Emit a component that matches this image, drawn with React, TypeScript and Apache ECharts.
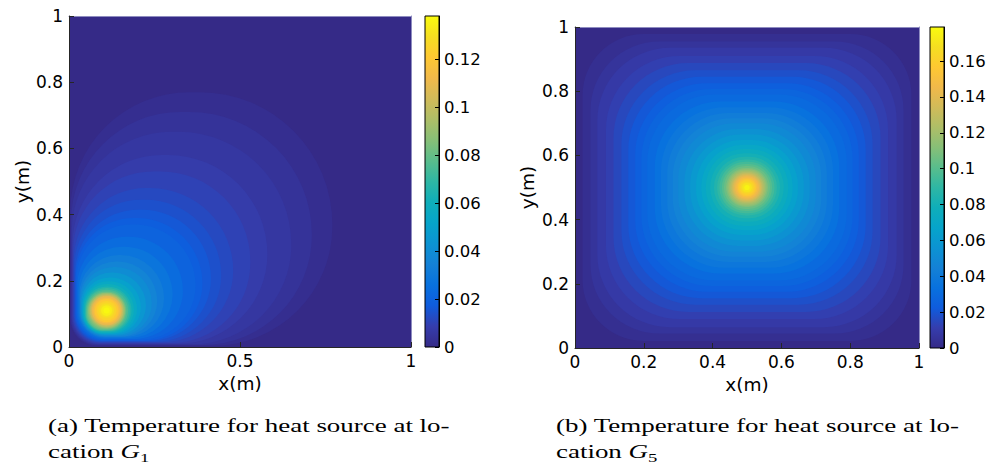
import React, { useEffect, useRef } from 'react';
import * as echarts from 'echarts';

// MATLAB parula colormap stops
const PARULA = ['#352a87', '#353dad', '#0f5cdd', '#0871de', '#1481d6', '#0c93d2', '#06a4ca', '#0faeb9', '#2eb7a4', '#59bd8c', '#87bf77', '#aebe67', '#d1bb59', '#f1b94a', '#fec832', '#f5de21', '#f9fb0e'];

// ---- Panel (a): heat source at G1 — filled contour bands (level, extents, corner radii in metres)
const G1_LEVELS = [0, 0.002, 0.004, 0.006, 0.008, 0.010, 0.012, 0.014, 0.016, 0.018, 0.020, 0.024, 0.028, 0.032, 0.036, 0.040, 0.045, 0.050, 0.055, 0.060, 0.065, 0.070, 0.075, 0.080, 0.085, 0.090, 0.095, 0.100, 0.105, 0.110, 0.115, 0.120, 0.125, 0.130, 0.134, 0.137];
const G1_INNER = [0, 0.004, 0.006, 0.008, 0.010, 0.012, 0.014, 0.016, 0.018, 0.020, 0.022, 0.024, 0.027, 0.030, 0.032, 0.034, 0.036, 0.039, 0.041, 0.043, 0.046, 0.048, 0.050, 0.052, 0.055, 0.057, 0.060, 0.062, 0.065, 0.067, 0.071, 0.075, 0.081, 0.088, 0.094, 0.101];
const G1_OUTER = [1, 0.77, 0.71, 0.65, 0.58, 0.53, 0.48, 0.445, 0.415, 0.39, 0.37, 0.333, 0.303, 0.278, 0.258, 0.242, 0.225, 0.21, 0.199, 0.19, 0.183, 0.178, 0.173, 0.168, 0.165, 0.163, 0.16, 0.158, 0.155, 0.153, 0.149, 0.145, 0.139, 0.132, 0.126, 0.119];
const G1_R_FAR = [0, 0.40, 0.37, 0.34, 0.30, 0.27, 0.25, 0.23, 0.21, 0.20, 0.185, 0.165, 0.148, 0.134, 0.122, 0.112, 0.102, 0.092, 0.085, 0.078, 0.073, 0.068, 0.063, 0.058, 0.055, 0.053, 0.05, 0.048, 0.045, 0.043, 0.039, 0.035, 0.029, 0.022, 0.016, 0.009];
const G1_R_SIDE = [0, 0.36, 0.33, 0.30, 0.27, 0.24, 0.217, 0.20, 0.19, 0.174, 0.165, 0.148, 0.133, 0.12, 0.11, 0.10, 0.092, 0.082, 0.076, 0.07, 0.066, 0.063, 0.06, 0.058, 0.055, 0.053, 0.05, 0.048, 0.045, 0.043, 0.039, 0.035, 0.029, 0.022, 0.016, 0.009];
const G1_R_NEAR = [0, 0.08, 0.08, 0.08, 0.08, 0.08, 0.08, 0.08, 0.08, 0.08, 0.08, 0.08, 0.08, 0.075, 0.075, 0.07, 0.07, 0.065, 0.06, 0.057, 0.055, 0.052, 0.05, 0.05, 0.05, 0.053, 0.05, 0.048, 0.045, 0.043, 0.039, 0.035, 0.029, 0.022, 0.016, 0.009];
const G1_COLOR_MAX = 0.138;

// ---- Panel (b): heat source at G5
const G5_SOURCE = [0.5, 0.5];
const G5_LEVELS = [0, 0.003, 0.006, 0.009, 0.012, 0.015, 0.018, 0.021, 0.024, 0.027, 0.030, 0.034, 0.038, 0.042, 0.046, 0.050, 0.055, 0.060, 0.065, 0.070, 0.075, 0.080, 0.085, 0.090, 0.095, 0.100, 0.105, 0.110, 0.115, 0.120, 0.125, 0.130, 0.135, 0.140, 0.145, 0.150, 0.155, 0.160, 0.165, 0.170, 0.176];
const G5_HALF = [0.5, 0.478, 0.455, 0.435, 0.41, 0.388, 0.365, 0.345, 0.325, 0.307, 0.29, 0.268, 0.25, 0.232, 0.216, 0.20, 0.182, 0.165, 0.148, 0.133, 0.12, 0.107, 0.096, 0.087, 0.08, 0.073, 0.067, 0.061, 0.057, 0.053, 0.049, 0.045, 0.042, 0.039, 0.035, 0.031, 0.027, 0.023, 0.019, 0.014, 0.008];
const G5_RADIUS = [0, 0.19, 0.214, 0.226, 0.23, 0.233, 0.23, 0.228, 0.224, 0.218, 0.212, 0.204, 0.198, 0.19, 0.184, 0.176, 0.166, 0.155, 0.142, 0.13, 0.118, 0.106, 0.096, 0.087, 0.08, 0.073, 0.067, 0.061, 0.057, 0.053, 0.049, 0.045, 0.042, 0.039, 0.035, 0.031, 0.027, 0.023, 0.019, 0.014, 0.008];
const G5_COLOR_MAX = 0.179;

// ---- Axes / text
const X_TICKS_A = 0.5;
const X_TICKS_B = 0.2;
const Y_TICKS = 0.2;
const CBAR_TICKS = 0.02;
const X_NAME = 'x(m)';
const Y_NAME = 'y(m)';
const CAPTION_A1 = '(a) Temperature for heat source at lo-';
const CAPTION_B1 = '(b) Temperature for heat source at lo-';
const CAPTION_SUB_A = '1';
const CAPTION_SUB_B = '5';

const g1Rows = G1_LEVELS.map((lv, i) => [lv, G1_INNER[i], G1_INNER[i], G1_OUTER[i], G1_OUTER[i], G1_R_SIDE[i], G1_R_FAR[i], G1_R_SIDE[i], G1_R_NEAR[i]]);
const g5Rows = G5_LEVELS.map((lv, i) => [lv, G5_SOURCE[0] - G5_HALF[i], G5_SOURCE[1] - G5_HALF[i], G5_SOURCE[0] + G5_HALF[i], G5_SOURCE[1] + G5_HALF[i], G5_RADIUS[i], G5_RADIUS[i], G5_RADIUS[i], G5_RADIUS[i]]);

const TICK_FONT = { fontFamily: 'DejaVu Sans', fontSize: 17, color: '#000' };
const CBAR_FONT = { fontFamily: 'DejaVu Sans', fontSize: 16.5, color: '#000' };
const NAME_FONT = { fontFamily: 'DejaVu Sans', fontSize: 18.5, color: '#000' };
const AXIS_COLOR = '#262626';
const EDGE_COLOR = '#8e8cc0';
const SERIF = 'Liberation Serif';
const CAP_SIZE = 19.5;
const CAP_WIDTH = 402;

function bandItem(params: any, api: any) {
  const tl = api.coord([api.value(1), api.value(4)]);
  const br = api.coord([api.value(3), api.value(2)]);
  const unit = api.size([1, 1]);
  const k = Math.min(unit[0], unit[1]);
  return {
    type: 'rect',
    shape: {
      x: tl[0], y: tl[1], width: br[0] - tl[0], height: br[1] - tl[1],
      r: [api.value(5) * k, api.value(6) * k, api.value(7) * k, api.value(8) * k],
    },
    style: { fill: api.visual('color') },
  };
}

function colorbarItem(params: any, api: any) {
  const top = api.coord([0, api.value(1)]);
  const bottom = api.coord([0, api.value(0)]);
  const cs = params.coordSys;
  const stops = PARULA.map((c, i) => ({ offset: i / (PARULA.length - 1), color: c }));
  return {
    type: 'rect',
    shape: { x: cs.x, y: top[1], width: cs.width, height: bottom[1] - top[1] },
    style: { fill: new echarts.graphic.LinearGradient(0, 1, 0, 0, stops), stroke: '#000', lineWidth: 1 },
  };
}

function mainX(gridIndex: number, interval: number) {
  return {
    type: 'value', gridIndex, min: 0, max: 1, interval, position: 'bottom', z: 5,
    name: X_NAME, nameLocation: 'middle', nameGap: 26, nameTextStyle: NAME_FONT,
    axisLine: { show: true, onZero: false, lineStyle: { color: AXIS_COLOR, width: 1 } },
    axisTick: { show: true, inside: true, length: 5, lineStyle: { color: AXIS_COLOR } },
    axisLabel: { ...TICK_FONT, margin: 5 },
    splitLine: { show: false },
  };
}
function mainY(gridIndex: number, nameGap: number) {
  return {
    type: 'value', gridIndex, min: 0, max: 1, interval: Y_TICKS, position: 'left', z: 5,
    name: Y_NAME, nameLocation: 'middle', nameGap, nameTextStyle: NAME_FONT,
    axisLine: { show: true, onZero: false, lineStyle: { color: AXIS_COLOR, width: 1 } },
    axisTick: { show: true, inside: true, length: 5, lineStyle: { color: AXIS_COLOR } },
    axisLabel: { ...TICK_FONT, margin: 6 },
    splitLine: { show: false },
  };
}
function edgeAxis(gridIndex: number, position: string) {
  return {
    type: 'value', gridIndex, min: 0, max: 1, position, z: 4,
    axisLine: { show: true, onZero: false, lineStyle: { color: EDGE_COLOR, width: 1 } },
    axisTick: { show: false }, axisLabel: { show: false }, splitLine: { show: false },
  };
}
function hiddenX(gridIndex: number) {
  return { type: 'value', gridIndex, min: 0, max: 1, show: false };
}
function cbarY(gridIndex: number, max: number) {
  return {
    type: 'value', gridIndex, min: 0, max, interval: CBAR_TICKS, position: 'right', z: 5,
    axisLine: { show: true, onZero: false, lineStyle: { color: '#000', width: 1 } },
    axisTick: { show: true, inside: true, length: 4, lineStyle: { color: '#000' } },
    axisLabel: { ...CBAR_FONT, margin: 5, showMaxLabel: false },
    splitLine: { show: false },
  };
}

export default function App() {
  const ref = useRef<HTMLDivElement>(null);
  useEffect(() => {
    if (!ref.current) return;
    const chart = echarts.init(ref.current, null, { renderer: 'svg' });

    const ctx = document.createElement('canvas').getContext('2d')!;
    ctx.font = `${CAP_SIZE}px "${SERIF}"`;
    const capScale = CAP_WIDTH / ctx.measureText(CAPTION_A1).width;

    const caption = (x: number, line1: string, sub: string) => ({
      type: 'text', x, y: 412, scaleX: capScale, silent: true,
      style: {
        text: `${line1}\ncation {g|G}{s|${sub}}`,
        fontFamily: SERIF, fontSize: CAP_SIZE, lineHeight: 26, fill: '#000',
        rich: {
          g: { fontFamily: SERIF, fontSize: CAP_SIZE, fontStyle: 'italic', fill: '#000', lineHeight: 26 },
          s: { fontFamily: SERIF, fontSize: 13.5, fill: '#000', verticalAlign: 'bottom', lineHeight: 20 },
        },
      },
    });

    const option: any = {
      animation: false,
      backgroundColor: '#fff',
      grid: [
        { left: 69, top: 16, width: 342, height: 331 },
        { left: 425, top: 16, width: 14, height: 331 },
        { left: 575, top: 27, width: 344, height: 321 },
        { left: 930, top: 27, width: 14, height: 321 },
      ],
      xAxis: [
        mainX(0, X_TICKS_A), edgeAxis(0, 'top'), hiddenX(1),
        mainX(2, X_TICKS_B), edgeAxis(2, 'top'), hiddenX(3),
      ],
      yAxis: [
        mainY(0, 35), edgeAxis(0, 'right'), cbarY(1, G1_COLOR_MAX),
        mainY(2, 38), edgeAxis(2, 'right'), cbarY(3, G5_COLOR_MAX),
      ],
      visualMap: [
        { type: 'continuous', show: false, seriesIndex: 0, dimension: 0, min: 0, max: G1_COLOR_MAX, inRange: { color: PARULA } },
        { type: 'continuous', show: false, seriesIndex: 2, dimension: 0, min: 0, max: G5_COLOR_MAX, inRange: { color: PARULA } },
      ],
      series: [
        { type: 'custom', xAxisIndex: 0, yAxisIndex: 0, z: 1, clip: true, encode: { x: 1, y: 2 }, renderItem: bandItem, data: g1Rows },
        { type: 'custom', xAxisIndex: 2, yAxisIndex: 2, z: 1, encode: { x: 0, y: 1 }, renderItem: colorbarItem, data: [[0, G1_COLOR_MAX]] },
        { type: 'custom', xAxisIndex: 3, yAxisIndex: 3, z: 1, clip: true, encode: { x: 1, y: 2 }, renderItem: bandItem, data: g5Rows },
        { type: 'custom', xAxisIndex: 5, yAxisIndex: 5, z: 1, encode: { x: 0, y: 1 }, renderItem: colorbarItem, data: [[0, G5_COLOR_MAX]] },
      ],
      graphic: { elements: [caption(48, CAPTION_A1, CAPTION_SUB_A), caption(556, CAPTION_B1, CAPTION_SUB_B)] },
    };
    chart.setOption(option);
    return () => chart.dispose();
  }, []);
  return <div ref={ref} style={{ position: 'fixed', left: 0, top: 0, width: 1002, height: 469, background: '#fff' }} />;
}
